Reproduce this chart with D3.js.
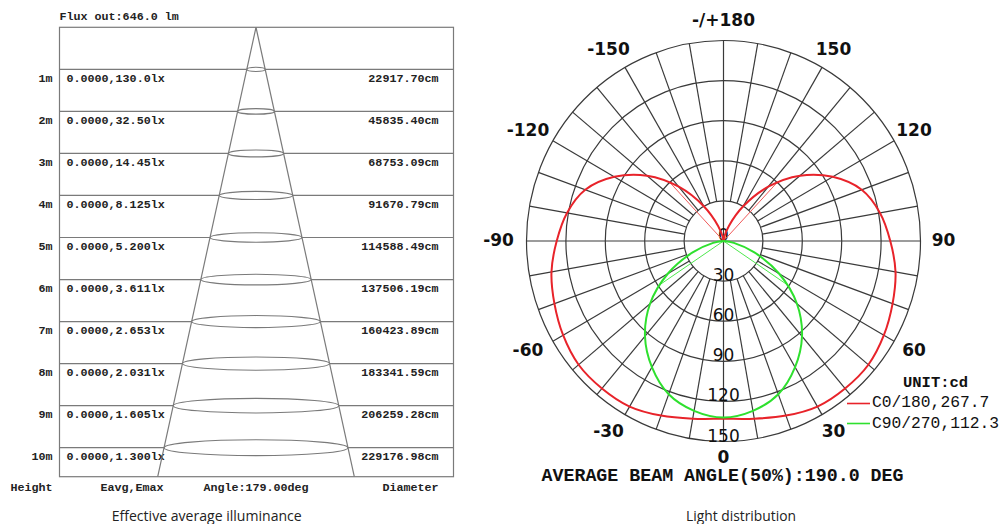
<!DOCTYPE html>
<html><head><meta charset="utf-8">
<script src="https://cdn.jsdelivr.net/npm/d3@7"></script>
<style>body{margin:0;background:#fff}svg{display:block}</style>
</head><body><svg id="c" width="1004" height="524"></svg>
<script>
// ---------- data: illuminance table ----------
const heights   = [1,2,3,4,5,6,7,8,9,10];
const eavg      = [0,0,0,0,0,0,0,0,0,0];
const emax      = [130.0,32.50,14.45,8.125,5.200,3.611,2.653,2.031,1.605,1.300];
const diameters = [22917.70,45835.40,68753.09,91670.79,114588.49,137506.19,160423.89,183341.59,206259.28,229176.98];
const fluxOut   = 646.0;
const coneAngle = 179.00;
const tableHeaders = ["Height","Eavg,Emax","Angle:"+coneAngle.toFixed(2)+"deg","Diameter"];

// ---------- data: light distribution ----------
const c0Angles = [-180,-170,-160,-150,-140,-130,-120,-110,-100,-90,-80,-70,-60,-50,-40,-30,-20,-10,0,10,20,30,40,50,60,70,80,90,100,110,120,130,140,150,160,170];
const c0Values = [0,3,12,30,53,76,96,112,121,127,133,137,141,144,144,143,139,135,133,135,139,143,144,144,141,137,133,127,121,112,96,76,53,30,12,3];
const c90Angles = [-90,-80,-70,-60,-50,-40,-30,-20,-10,0,10,20,30,40,50,60,70,80,90];
const c90Values = [0,8,25,49,73,93,109,122,129,132,129,122,109,93,73,49,25,8,0];
const c0HalfAngles  = [-137,137];
const c90HalfAngles = [-56,56];
const ringValues  = [0,30,60,90,120,150];
const angleLabels = [-150,-120,-90,-60,-30,0,30,60,90,120,150,180];
const legendItems = [{name:"C0/180,267.7", color:"#e8232a"},{name:"C90/270,112.3", color:"#2ee02e"}];
const beamText = "AVERAGE BEAM ANGLE(50%):190.0 DEG";

const svg = d3.select("#c");
const mono = "'Liberation Mono','Courier New',monospace";
const sans = "'DejaVu Sans',Verdana,sans-serif";

// ================= LEFT PANEL =================
const box = {x0:59.5, x1:453.5, top:27.3, bottom:476.7, cx:256};
const yRow = d3.scaleLinear().domain([0,10]).range([27.3,447.7]);
const halfW = d3.scaleLinear().domain([box.top, box.bottom]).range([0, 98.3]);
const L = svg.append("g");
const gray = "#7a7a7a";

L.append("rect").attr("x",box.x0).attr("y",box.top).attr("width",box.x1-box.x0).attr("height",box.bottom-box.top)
  .attr("fill","none").attr("stroke",gray).attr("stroke-width",1.2);

heights.forEach((h,i)=>{
  const y = yRow(h), rw = halfW(y), rh = 1.5 + 0.07*rw;
  L.append("line").attr("x1",box.x0).attr("x2",box.cx-rw).attr("y1",y).attr("y2",y).attr("stroke",gray).attr("stroke-width",1.2);
  L.append("line").attr("x1",box.cx+rw).attr("x2",box.x1).attr("y1",y).attr("y2",y).attr("stroke",gray).attr("stroke-width",1.2);
  L.append("ellipse").attr("cx",box.cx).attr("cy",y).attr("rx",rw).attr("ry",rh)
    .attr("fill","none").attr("stroke",gray).attr("stroke-width",1.1);
  const t = L.append("g").attr("font-family",mono).attr("font-weight","bold").attr("font-size",11.7).attr("fill","#222");
  t.append("text").attr("x",52.5).attr("y",y+12.3).attr("text-anchor","end").text(h+"m");
  t.append("text").attr("x",66.5).attr("y",y+12.3).text(eavg[i].toFixed(4)+","+d3.format(".4r")(emax[i])+"lx");
  t.append("text").attr("x",438.5).attr("y",y+12.3).attr("text-anchor","end").text(diameters[i].toFixed(2)+"cm");
});
// cone
L.append("line").attr("x1",box.cx).attr("y1",box.top).attr("x2",box.cx-halfW(box.bottom)).attr("y2",box.bottom).attr("stroke",gray).attr("stroke-width",1.2);
L.append("line").attr("x1",box.cx).attr("y1",box.top).attr("x2",box.cx+halfW(box.bottom)).attr("y2",box.bottom).attr("stroke",gray).attr("stroke-width",1.2);

const tl = L.append("g").attr("font-family",mono).attr("font-weight","bold").attr("font-size",11.7).attr("fill","#222");
tl.append("text").attr("x",59.5).attr("y",19.5).text("Flux out:"+fluxOut.toFixed(1)+" lm");
tl.append("text").attr("x",52.5).attr("y",491).attr("text-anchor","end").text(tableHeaders[0]);
tl.append("text").attr("x",132).attr("y",491).attr("text-anchor","middle").text(tableHeaders[1]);
tl.append("text").attr("x",box.cx).attr("y",491).attr("text-anchor","middle").text(tableHeaders[2]);
tl.append("text").attr("x",438.5).attr("y",491).attr("text-anchor","end").text(tableHeaders[3]);

svg.append("text").attr("x",206.7).attr("y",521).attr("text-anchor","middle")
  .attr("font-family","'Open Sans','Noto Sans',sans-serif").attr("font-size",14).attr("fill","#222")
  .attr("textLength",190).attr("lengthAdjust","spacingAndGlyphs").text("Effective average illuminance");

// ================= POLAR PANEL =================
const cx = 723.5, cy = 241;
const rx = d3.scaleLinear().domain([0,150]).range([0,197]);
const ry = d3.scaleLinear().domain([0,150]).range([0,200.5]);
const rad = a => a*Math.PI/180;
const px = (a,v) => cx + rx(v)*Math.sin(rad(a));
const py = (a,v) => cy + ry(v)*Math.cos(rad(a));
const P = svg.append("g");
const gridC = "#3a3a3a";

// rings
ringValues.filter(v=>v>0).forEach(v=>{
  P.append("ellipse").attr("cx",cx).attr("cy",cy).attr("rx",rx(v)).attr("ry",ry(v))
    .attr("fill","none").attr("stroke",gridC).attr("stroke-width",1.2);
});
// spokes every 10 deg from first ring to outer ring
const spokeAngles = d3.range(-170,181,10);
spokeAngles.forEach(a=>{
  const full = (a===0||a===90||a===-90||a===180);
  const v0 = full ? 0 : ringValues[1];
  P.append("line").attr("x1",px(a,v0)).attr("y1",py(a,v0)).attr("x2",px(a,150)).attr("y2",py(a,150))
    .attr("stroke",gridC).attr("stroke-width",1.2);
});

// ring labels
const rl = P.append("g").attr("font-family",sans).attr("font-size",17).attr("fill","#111").attr("text-anchor","middle");
ringValues.forEach(v=>{
  rl.append("text").attr("x",cx).attr("y",cy+ry(v)+(v===0?-0.5:0)).text(v);
});

// curves
const c0Pts = c0Angles.map((a,i)=>[px(a,c0Values[i]), py(a,c0Values[i])]);
const c90Pts = c90Angles.map((a,i)=>[px(a,c90Values[i]), py(a,c90Values[i])]);
const lineClosed = d3.line().curve(d3.curveCatmullRomClosed.alpha(0.5));
const lineOpen = d3.line().curve(d3.curveCatmullRom.alpha(0.5));

// half-max lines
const c0Interp = d3.scaleLinear().domain(c0Angles).range(c0Values);
const c90Interp = d3.scaleLinear().domain(c90Angles).range(c90Values);
c0HalfAngles.forEach(a=>{
  const v = c0Interp(a);
  P.append("line").attr("x1",cx).attr("y1",cy).attr("x2",px(a,v)).attr("y2",py(a,v))
    .attr("stroke","#f05a5a").attr("stroke-width",1);
});
c90HalfAngles.forEach(a=>{
  const v = c90Interp(a);
  P.append("line").attr("x1",cx).attr("y1",cy).attr("x2",px(a,v)).attr("y2",py(a,v))
    .attr("stroke","#4ee84e").attr("stroke-width",1);
});

P.append("path").attr("d",lineClosed(c0Pts)).attr("fill","none").attr("stroke",legendItems[0].color).attr("stroke-width",2);
P.append("path").attr("d",lineOpen(c90Pts)).attr("fill","none").attr("stroke",legendItems[1].color).attr("stroke-width",2);

// angle labels
const al = P.append("g").attr("font-family",sans).attr("font-weight","bold").attr("font-size",17).attr("fill","#111")
  .attr("text-anchor","middle").attr("dominant-baseline","central");
const labR = 220;
angleLabels.forEach(a=>{
  const x = cx + labR*Math.sin(rad(a)) + (a<0?-5:0);
  const y = cy + labR*Math.cos(rad(a)) - (a===0?4:1);
  al.append("text").attr("x",x).attr("y",y).text(a===180?"-/+180":a);
});

// legend
const lg = svg.append("g");
lg.append("text").attr("x",903).attr("y",386.5).attr("font-family",mono).attr("font-weight","bold").attr("font-size",15.5).attr("fill","#111").text("UNIT:cd");
legendItems.forEach((d,i)=>{
  const y = 403.5 + i*20;
  lg.append("line").attr("x1",847).attr("x2",870).attr("y1",y).attr("y2",y).attr("stroke",d.color).attr("stroke-width",1.6);
  lg.append("text").attr("x",872).attr("y",y+3.5+ (i===0?0:0.5)).attr("font-family",mono).attr("font-size",16.3).attr("fill","#111").text(d.name);
});

svg.append("text").attr("x",541.5).attr("y",481).attr("font-family",mono).attr("font-weight","bold").attr("font-size",18.3)
  .attr("fill","#111").text(beamText);

svg.append("text").attr("x",741).attr("y",521).attr("text-anchor","middle")
  .attr("font-family","'Open Sans','Noto Sans',sans-serif").attr("font-size",14).attr("fill","#222")
  .attr("textLength",110).attr("lengthAdjust","spacingAndGlyphs").text("Light distribution");
</script></body></html>
